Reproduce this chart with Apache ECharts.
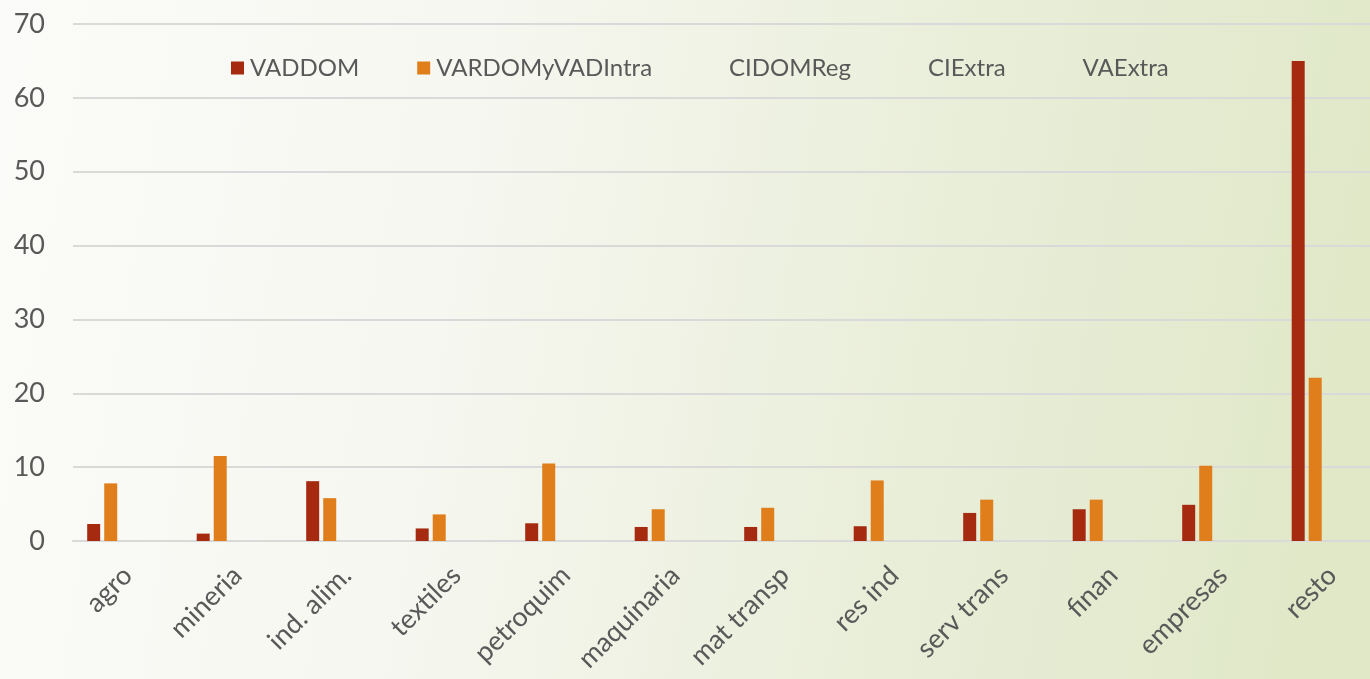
<!DOCTYPE html>
<html><head><meta charset="utf-8">
<script src="https://cdn.jsdelivr.net/npm/echarts@6/dist/echarts.min.js"></script>
<style>html,body{margin:0;padding:0;}#c{width:1370px;height:679px;}</style>
</head><body><div id="c"></div>
<script>
const categories = ['agro','mineria','ind. alim.','textiles','petroquim','maquinaria','mat transp','res ind','serv trans','finan','empresas','resto'];
const seriesNames = ['VADDOM','VARDOMyVADIntra','CIDOMReg','CIExtra','VAExtra'];
const VADDOM = [2.3, 1.0, 8.1, 1.7, 2.4, 1.9, 1.9, 2.0, 3.8, 4.3, 4.9, 65.0];
const VARDOMyVADIntra = [7.8, 11.5, 5.8, 3.6, 10.5, 4.3, 4.5, 8.2, 5.6, 5.6, 10.2, 22.1];
const CIDOMReg = [];
const CIExtra = [];
const VAExtra = [];
const yTicks = [0,10,20,30,40,50,60,70];

const font = 'Lato, "Open Sans", sans-serif';
const colors = ['#a52a0f','#df7e1a','rgba(0,0,0,0)','rgba(0,0,0,0)','rgba(0,0,0,0)'];
const dataSets = [VADDOM, VARDOMyVADIntra, CIDOMReg, CIExtra, VAExtra];

const chart = echarts.init(document.getElementById('c'));
chart.setOption({
  backgroundColor: {type:'linear', x:0, y:0, x2:1, y2:0.35, colorStops:[
    {offset:0, color:'#fbfbf9'},{offset:0.35, color:'#f6f7f0'},{offset:0.7, color:'#e9eed9'},{offset:1, color:'#e0e8c8'}]},
  color: colors,
  animation: false,
  legend: {
    top: 51, left: 226, itemWidth: 13, itemHeight: 13, itemGap: 58,
    icon: 'rect',
    textStyle: {fontFamily: font, fontSize: 24, color: '#595959', padding:[0,0,0,1]},
    data: seriesNames
  },
  grid: {left: 73, width: 1314, top: 24, bottom: 138, containLabel: false, outerBoundsMode: 'none'},
  xAxis: {
    type: 'category', data: categories,
    axisLine: {lineStyle:{color:'#d9d9d9', width:2}},
    axisTick: {show:false},
    axisLabel: {rotate: 45, fontFamily: font, fontSize: 27, color:'#595959', margin: 30}
  },
  yAxis: {
    type: 'value', min: yTicks[0], max: yTicks[yTicks.length-1], interval: 10,
    axisLine: {show:false}, axisTick:{show:false},
    axisLabel: {fontFamily: font, fontSize: 27, color:'#595959', margin: 28},
    splitLine: {lineStyle:{color:'#d9d9d9', width:2}}
  },
  series: seriesNames.map((n,i)=>({
    name: n, type: 'bar', data: dataSets[i].length ? dataSets[i] : categories.map(()=>0),
    barWidth: 13, barGap: '31%',
    itemStyle: {color: colors[i]}
  }))
});
</script></body></html>
